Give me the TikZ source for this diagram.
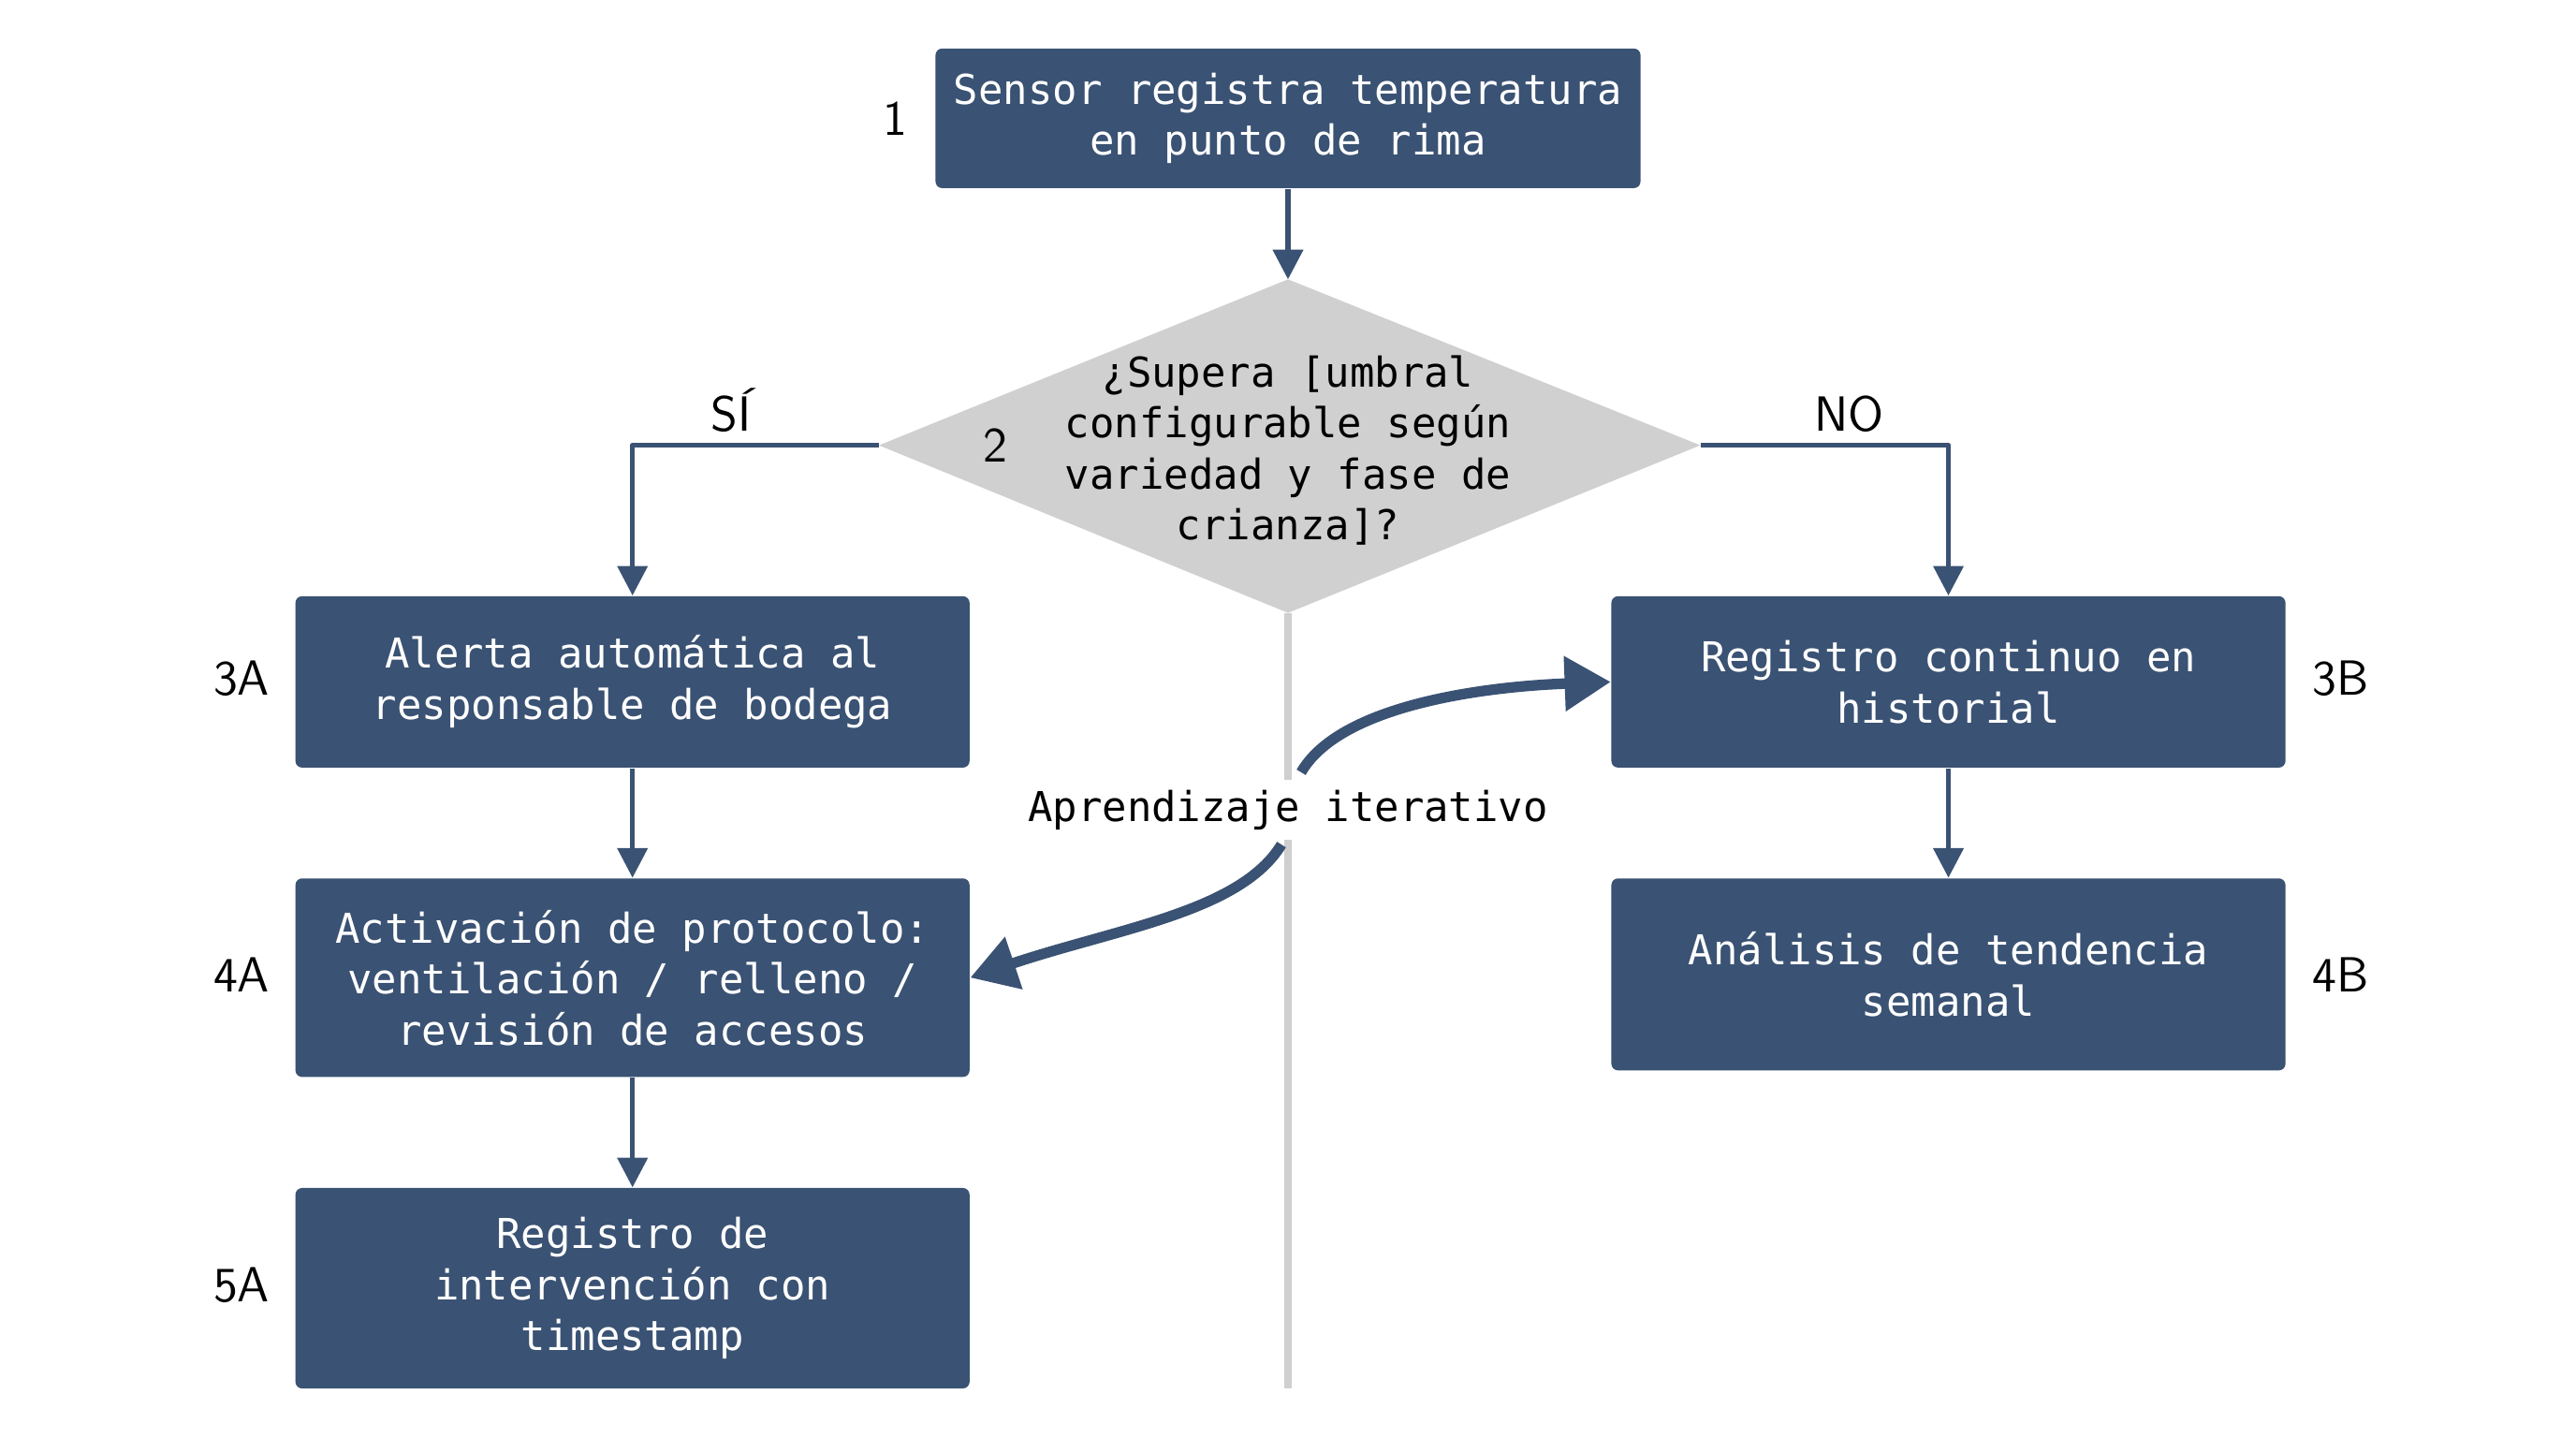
\documentclass[tikz,border=0pt]{standalone}
\usepackage{fontspec}
\setmonofont{DejaVu Sans Mono}
\usetikzlibrary{arrows.meta,positioning}
\definecolor{boxblue}{HTML}{3A5273}
\definecolor{diagray}{HTML}{D0D0D0}
\definecolor{axisgray}{HTML}{CFCFCF}

\begin{document}
\begin{tikzpicture}[x=0.01755cm, y=-0.01755cm, line join=round,
    font=\ttfamily\fontsize{12.5}{15.5}\selectfont]
    \tikzset{%
      step_box/.style  = {fill=boxblue, text=white, rounded corners=2pt,
                          align=center, minimum width=7.2cm, inner sep=0pt},
      flow_arrow/.style = {line width=1.5pt, draw=boxblue,
                          -{Triangle[length=9pt,width=9pt]}},
      loop_arrow/.style = {line width=3.2pt, draw=boxblue,
                          -{Triangle[length=14pt,width=16pt]}},
      step_num/.style  = {font=\sffamily\fontsize{15}{18}\selectfont}
    }
    \useasboundingbox (0,0) rectangle (1568,875);

    % vertical gray axis
    \draw[axisgray, line width=2.5pt] (784,373) -- (784,845);

    % boxes
    \node[step_box, minimum width=7.53cm, minimum height=1.49cm] (s1) at (784,72)
      {Sensor registra temperatura\\en punto de rima};
    \fill[diagray] (784,170) coordinate (qn) -- (1035,271) coordinate (qe)
      -- (784,373) coordinate (qs) -- (535,271) coordinate (qw) -- cycle;
    \node[align=center] (q) at (784,274)
      {¿Supera [umbral\\configurable según\\variedad y fase de\\crianza]?};
    \node[step_box, minimum height=1.83cm] (a3) at (385,415)
      {Alerta automática al\\responsable de bodega};
    \node[step_box, minimum height=2.12cm] (a4) at (385,595)
      {Activación de protocolo:\\ventilación / relleno /\\revisión de accesos};
    \node[step_box, minimum height=2.14cm] (a5) at (385,784)
      {Registro de\\intervención con\\timestamp};
    \node[step_box, minimum height=1.83cm] (b3) at (1186,415)
      {Registro continuo en\\historial};
    \node[step_box, minimum height=2.05cm] (b4) at (1186,593)
      {Análisis de tendencia\\semanal};

    % step numbers
    \node[step_num] at (545,72) {1};
    \node[step_num] at (606,271) {2};
    \node[step_num] at (147,413) {3A};
    \node[step_num] at (147,593) {4A};
    \node[step_num] at (147,782) {5A};
    \node[step_num] at (1425,413) {3B};
    \node[step_num] at (1425,593) {4B};

    % connectors
    \draw[flow_arrow] (s1) -- (qn);
    \draw[flow_arrow] (qw) -| node[pos=0.3, above, step_num] {SÍ} (a3);
    \draw[flow_arrow] (qe) -| node[pos=0.3, above, step_num] {NO} (b3);
    \draw[flow_arrow] (a3) -- (a4);
    \draw[flow_arrow] (a4) -- (a5);
    \draw[flow_arrow] (b3) -- (b4);

    % iterative loop
    \coordinate (lt) at (792,470);
    \coordinate (lb) at (780,514);
    \draw[loop_arrow] (lt) .. controls (815,430) and (900,418) .. (b3.west);
    \draw[loop_arrow] (lb) .. controls (755,555) and (680,565) .. (a4.east);
    \node[fill=white, inner sep=3pt] (it) at (784,493) {Aprendizaje iterativo};
\end{tikzpicture}
\end{document}
